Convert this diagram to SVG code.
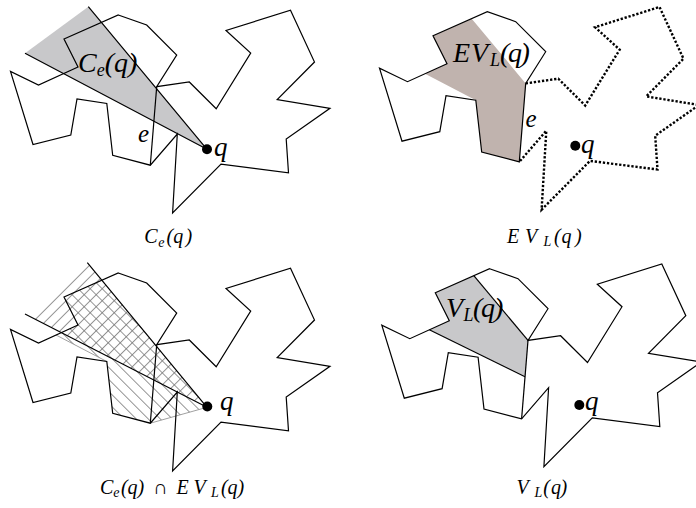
<svg xmlns="http://www.w3.org/2000/svg" xmlns:xlink="http://www.w3.org/1999/xlink" width="696" height="508" viewBox="0 0 696 508">
<style>
.edge{fill:none;stroke:#000;stroke-width:1.2;stroke-linejoin:miter}
.dot{fill:none;stroke:#000;stroke-width:2.4;stroke-dasharray:2.3 1.8}
.thin{fill:none;stroke:#888;stroke-width:0.8}
.lbl{font-family:"Liberation Serif","Times New Roman",serif;font-style:italic;font-size:28px;fill:#000}
.ql{font-family:"Liberation Serif","Times New Roman",serif;font-style:italic;font-size:27px;fill:#000}
.el{font-family:"Liberation Serif","Times New Roman",serif;font-style:italic;font-size:25px;fill:#000}
.cap{font-family:"Liberation Serif","Times New Roman",serif;font-style:italic;font-size:20px;fill:#000}
.up{font-style:normal}
.sub{font-size:18px}
.csub{font-size:14px}
</style>
<defs>
<path id="poly" d="M118.3,15 L146.7,25 L176.7,55 L156.7,86.7 L189.3,82 L216.2,108.8 L250.7,53 L226,30.5 L290.5,10.3 L314.5,62 L277.2,99.7 L330,108.3 L286.2,139 L288.5,172.8 L221,164.2 L172.6,213 L177.3,134 L150.3,165.2 L112.7,155.3 L106.8,103.5 L77,99 L70.8,135 L33,144.5 L10.5,71.5 L38.5,85 L78,67 L64,39 Z"/>
<path id="chord" d="M156.7,86.7 L150.3,165.2"/>
<path id="leftpart" d="M150.3,165.2 L112.7,155.3 L106.8,103.5 L77,99 L70.8,135 L33,144.5 L10.5,71.5 L38.5,85 L78,67 L64,39 L118.3,15 L146.7,25 L176.7,55 L156.7,86.7 Z"/>
<path id="rightpart" d="M156.7,86.7 L189.3,82 L216.2,108.8 L250.7,53 L226,30.5 L290.5,10.3 L314.5,62 L277.2,99.7 L330,108.3 L286.2,139 L288.5,172.8 L221,164.2 L172.6,213 L177.3,134 L150.3,165.2"/>
<pattern id="hatchA" patternUnits="userSpaceOnUse" width="8.5" height="8.5" patternTransform="rotate(-45)">
<line x1="0" y1="0.5" x2="8.5" y2="0.5" stroke="#7a7a7a" stroke-width="0.8"/>
</pattern>
<pattern id="hatchB" patternUnits="userSpaceOnUse" width="8.5" height="8.5" patternTransform="rotate(45)">
<line x1="0" y1="0.5" x2="8.5" y2="0.5" stroke="#7a7a7a" stroke-width="0.8"/>
</pattern>
<clipPath id="coneClip"><polygon points="87.3,4.6 207,149.3 33,60"/></clipPath>
<clipPath id="evClip"><polygon points="101,20 207,149.3 150.3,165.2 112.7,155.3 106.8,103.5 56,77 78,67 64,39 102.7,22"/></clipPath>
</defs>

<g id="panel-ce">
<polygon points="88.3,6.7 207,149.3 25,53.3" fill="#c8c8ca"/>
<use xlink:href="#poly" class="edge"/>
<use xlink:href="#chord" class="edge"/>
<polyline points="88.3,6.7 207,149.3 25,53.3" class="edge"/>
<circle cx="207" cy="149.3" r="5"/>
<text class="el" x="138" y="141.5">e</text>
<text class="ql" x="214" y="156">q</text>
<text class="lbl" x="78" y="71.5">C<tspan class="sub" dy="4">e</tspan><tspan dy="-4">(q)</tspan></text>
<text class="cap" y="243"><tspan x="144.3">C</tspan><tspan class="csub" x="158.3" dy="3.5">e</tspan><tspan x="166.5" dy="-3.5">(</tspan><tspan x="173.3">q</tspan><tspan x="185.5">)</tspan></text>
</g>

<g id="panel-evl">
<g transform="translate(369,-3.3)">
<polygon points="102.7,22 156.7,86.7 150.3,165.2 112.7,155.3 106.8,103.5 56,77 78,67 64,39" fill="#c0b3ae"/>
<use xlink:href="#leftpart" class="edge"/>
<use xlink:href="#rightpart" class="dot"/>
</g>
<circle cx="575.3" cy="145.7" r="5"/>
<text class="el" x="525.5" y="126.5">e</text>
<text class="ql" x="581" y="153">q</text>
<text class="lbl" y="61.5"><tspan x="453">E</tspan><tspan x="471">V</tspan><tspan class="sub" x="490" dy="4">L</tspan><tspan x="500" dy="-4">(</tspan><tspan x="508">q</tspan><tspan x="520.5">)</tspan></text>
<text class="cap" y="242.5"><tspan x="507">E</tspan><tspan x="525">V</tspan><tspan class="csub" x="543.5" dy="3.5">L</tspan><tspan x="554" dy="-3.5">(</tspan><tspan x="561.5">q</tspan><tspan x="575">)</tspan></text>
</g>

<g id="panel-intersection">
<g transform="translate(0,258)">
<rect x="0" y="0" width="330" height="220" fill="url(#hatchA)" clip-path="url(#coneClip)"/>
<rect x="0" y="0" width="330" height="220" fill="url(#hatchB)" clip-path="url(#evClip)"/>
<line x1="56" y1="77" x2="106.8" y2="103.5" class="thin"/>
<line x1="150.3" y1="165.2" x2="207" y2="149.3" class="thin"/>
<use xlink:href="#poly" class="edge"/>
<use xlink:href="#chord" class="edge"/>
<polyline points="87.3,4.6 207,149.3 25,56" class="edge"/>
</g>
<circle cx="207.3" cy="406.5" r="5"/>
<text class="ql" x="220" y="410">q</text>
<text class="cap" y="493.5"><tspan x="100">C</tspan><tspan class="csub" x="113.3" dy="3.5">e</tspan><tspan x="121" dy="-3.5">(</tspan><tspan x="127.5">q</tspan><tspan x="137.5">)</tspan><tspan class="up" x="153">∩</tspan><tspan x="176.5">E</tspan><tspan x="193.5">V</tspan><tspan class="csub" x="211" dy="3.5">L</tspan><tspan x="221" dy="-3.5">(</tspan><tspan x="227.5">q</tspan><tspan x="237.5">)</tspan></text>
</g>

<g id="panel-vl">
<g transform="translate(371.3,253.7)">
<polygon points="64,39 102.5,22 156.7,86.7 153.7,123 58,76 78,67" fill="#c8c8ca"/>
<use xlink:href="#poly" class="edge"/>
<use xlink:href="#chord" class="edge"/>
<line x1="102.5" y1="22" x2="156.7" y2="86.7" class="edge"/>
<line x1="58" y1="76" x2="153.7" y2="123" class="edge"/>
</g>
<circle cx="579.3" cy="405" r="5"/>
<text class="ql" x="585" y="410">q</text>
<text class="lbl" y="316.5"><tspan x="446">V</tspan><tspan class="sub" x="463.5" dy="4">L</tspan><tspan x="473" dy="-4">(</tspan><tspan x="481">q</tspan><tspan x="494">)</tspan></text>
<text class="cap" y="493.5"><tspan x="516.5">V</tspan><tspan class="csub" x="534.5" dy="3.5">L</tspan><tspan x="543.3" dy="-3.5">(</tspan><tspan x="551">q</tspan><tspan x="560.5">)</tspan></text>
</g>
</svg>
